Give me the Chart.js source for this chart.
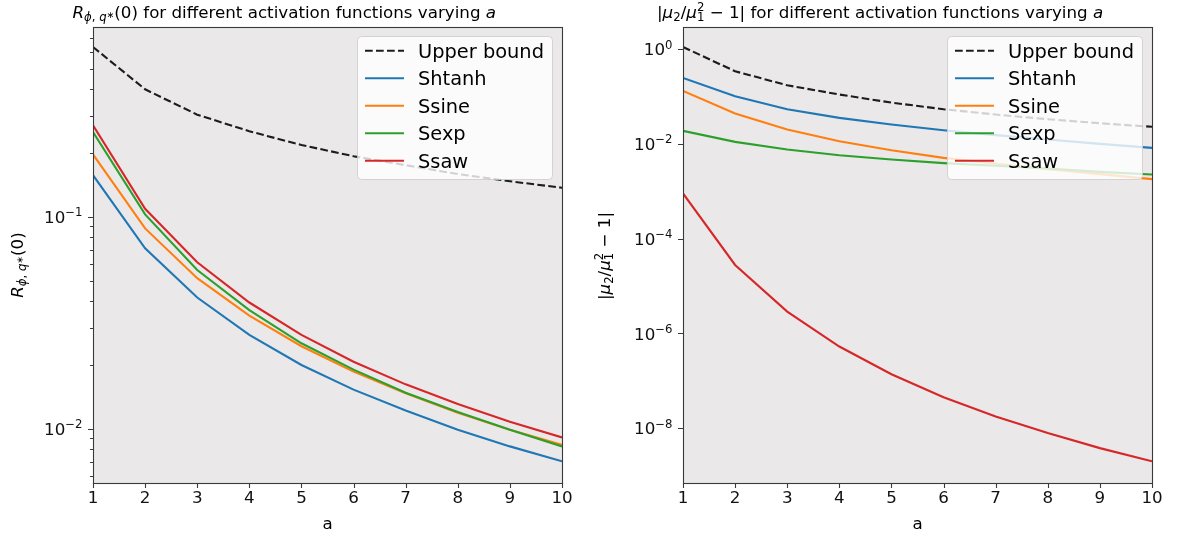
<!DOCTYPE html>
<html>
<head>
<meta charset="utf-8">
<script src="https://cdn.jsdelivr.net/npm/chart.js@4.4.1/dist/chart.umd.min.js"></script>
<style>
  html, body { margin: 0; padding: 0; background: #ffffff; }
  #wrap { position: relative; width: 1188px; height: 538px; }
  canvas { position: absolute; top: 0; }
  #left { left: 0; }
  #right { left: 594px; }
</style>
</head>
<body>
<div id="wrap">
  <canvas id="left" width="594" height="538"></canvas>
  <canvas id="right" width="594" height="538"></canvas>
</div>
<script>
// ---- data ---------------------------------------------------------------
const aValues = [1, 2, 3, 4, 5, 6, 7, 8, 9, 10];
const seriesNames = ['Upper bound', 'Shtanh', 'Ssine', 'Sexp', 'Ssaw'];
const seriesColors = ['#1c1c1c', '#1f77b4', '#ff7f0e', '#2ca02c', '#d62728'];

// R_{phi,q*}(0)
const rUpperBound = [0.632, 0.399, 0.303, 0.253, 0.218, 0.193, 0.175, 0.159, 0.147, 0.137];
const rShtanh     = [0.157, 0.0710, 0.0416, 0.0277, 0.0200, 0.0153, 0.0122, 0.00989, 0.00826, 0.00702];
const rSsine      = [0.197, 0.0881, 0.0513, 0.0342, 0.0245, 0.0186, 0.0147, 0.0119, 0.00989, 0.0084];
const rSexp       = [0.251, 0.1026, 0.0561, 0.0363, 0.0253, 0.0190, 0.0148, 0.0120, 0.00989, 0.00826];
const rSsaw       = [0.270, 0.109, 0.0610, 0.0394, 0.0277, 0.0207, 0.0162, 0.0131, 0.0108, 0.0091];

// |mu2/mu1^2 - 1|
const mUpperBound = [1.12, 0.344, 0.174, 0.111, 0.075, 0.0543, 0.042, 0.0334, 0.0275, 0.0231];
const mShtanh     = [0.249, 0.102, 0.0543, 0.0357, 0.0258, 0.0196, 0.0154, 0.0125, 0.0101, 0.0083];
const mSsine      = [0.132, 0.044, 0.0202, 0.0115, 0.0074, 0.0051, 0.00383, 0.00295, 0.00232, 0.00182];
const mSexp       = [0.019, 0.0111, 0.0077, 0.0058, 0.00472, 0.00395, 0.00347, 0.00305, 0.00259, 0.00228];
const mSsaw       = [9.06e-4, 2.8e-5, 2.9e-6, 5.3e-7, 1.38e-7, 4.5e-8, 1.77e-8, 7.9e-9, 3.8e-9, 2.0e-9];

// y ticks: major positions with their power-of-ten exponents, minor positions
const rMajorTicks     = [0.01, 0.1];
const rMajorExponents = ['−2', '−1'];
const rMinorTicks     = [0.006, 0.007, 0.008, 0.009, 0.02, 0.03, 0.04, 0.05, 0.06, 0.07, 0.08, 0.09,
                         0.2, 0.3, 0.4, 0.5, 0.6, 0.7];
const mMajorTicks     = [1e-8, 1e-6, 1e-4, 1e-2, 1];
const mMajorExponents = ['−8', '−6', '−4', '−2', '0'];
const mMinorTicks     = [];

// titles / axis labels as rich-text runs (it = italic, k = size factor, dy = baseline shift in em)
const rTitle = [
  { t: 'R', it: 1 },
  { t: 'ϕ', it: 1, k: 0.7, dy: 0.22 },
  { t: ', ', k: 0.7, dy: 0.22 },
  { t: 'q', it: 1, k: 0.7, dy: 0.22 },
  { t: '∗', k: 0.55, dy: 0.02 },
  { t: '(0) for different activation functions varying ' },
  { t: 'a', it: 1 }
];
const rYLabel = [
  { t: 'R', it: 1 },
  { t: 'ϕ', it: 1, k: 0.7, dy: 0.22 },
  { t: ', ', k: 0.7, dy: 0.22 },
  { t: 'q', it: 1, k: 0.7, dy: 0.22 },
  { t: '∗', k: 0.55, dy: 0.02 },
  { t: '(0)' }
];
const mTitle = [
  { t: '|' },
  { t: 'μ', it: 1 },
  { t: '2', k: 0.7, dy: 0.2 },
  { t: '/' },
  { t: 'μ', it: 1 },
  { t: '2', k: 0.7, dy: -0.4, stack: 1 },
  { t: '1', k: 0.7, dy: 0.2 },
  { t: ' − 1| for different activation functions varying ' },
  { t: 'a', it: 1 }
];
const mYLabel = [
  { t: '|' },
  { t: 'μ', it: 1 },
  { t: '2', k: 0.7, dy: 0.2 },
  { t: '/' },
  { t: 'μ', it: 1 },
  { t: '2', k: 0.7, dy: -0.4, stack: 1 },
  { t: '1', k: 0.7, dy: 0.2 },
  { t: ' − 1|' }
];
const xLabel = 'a';

// ---- styling ------------------------------------------------------------
const FONT = '"DejaVu Sans", "Noto Sans", sans-serif';
const TEXT_SIZE = 16.7;
const LEGEND_SIZE = 19.4;
const PANEL_BG = '#ebe8ea';
const SPINE = '#3a3a3a';
const INK = '#111111';

function runFont(r, base) {
  return (r.it ? 'italic ' : '') + (base * (r.k || 1)).toFixed(2) + 'px ' + FONT;
}
function richWidth(ctx, runs, base) {
  let w = 0, pending = null;
  for (const r of runs) {
    ctx.font = runFont(r, base);
    const rw = ctx.measureText(r.t).width;
    if (r.stack) { pending = rw; continue; }
    w += pending !== null ? Math.max(pending, rw) : rw;
    pending = null;
  }
  return w;
}
function drawRich(ctx, runs, x, y, base, align) {
  const w = richWidth(ctx, runs, base);
  let cx = align === 'center' ? x - w / 2 : align === 'right' ? x - w : x;
  let pending = null;
  ctx.textAlign = 'left';
  ctx.textBaseline = 'alphabetic';
  for (const r of runs) {
    ctx.font = runFont(r, base);
    const rw = ctx.measureText(r.t).width;
    ctx.fillText(r.t, cx, y + (r.dy || 0) * base);
    if (r.stack) { pending = rw; continue; }
    cx += pending !== null ? Math.max(pending, rw) : rw;
    pending = null;
  }
}

// panel background behind the lines
const panelBackground = {
  id: 'panelBackground',
  beforeDatasetsDraw(chart) {
    const { ctx, chartArea: a } = chart;
    ctx.save();
    ctx.fillStyle = PANEL_BG;
    ctx.fillRect(a.left, a.top, a.right - a.left, a.bottom - a.top);
    ctx.restore();
  }
};

// legend box in the upper right corner of the panel
const boxLegend = {
  id: 'boxLegend',
  afterDatasetsDraw(chart) {
    const { ctx, chartArea: a } = chart;
    const boxW = 195, boxH = 143, rowH = 27.5;
    const x0 = a.right - 10 - boxW, y0 = a.top + 9;
    ctx.save();
    ctx.beginPath();
    ctx.roundRect(x0 + 0.5, y0 + 0.5, boxW, boxH, 4);
    ctx.fillStyle = 'rgba(255,255,255,0.8)';
    ctx.fill();
    ctx.strokeStyle = 'rgba(204,204,204,0.8)';
    ctx.lineWidth = 1;
    ctx.stroke();
    chart.data.datasets.forEach((ds, i) => {
      const cy = y0 + 14.7 + i * rowH;
      ctx.beginPath();
      ctx.setLineDash(ds.borderDash || []);
      ctx.strokeStyle = ds.borderColor;
      ctx.lineWidth = ds.borderWidth;
      ctx.moveTo(x0 + 8, cy);
      ctx.lineTo(x0 + 47, cy);
      ctx.stroke();
      ctx.setLineDash([]);
      ctx.fillStyle = '#000000';
      ctx.font = LEGEND_SIZE + 'px ' + FONT;
      ctx.textAlign = 'left';
      ctx.textBaseline = 'alphabetic';
      ctx.fillText(ds.label, x0 + 61, cy + 7.2);
    });
    ctx.restore();
  }
};

// frame, tick marks, y tick labels, title and axis titles
const panelFrame = {
  id: 'panelFrame',
  afterDraw(chart) {
    const { ctx, chartArea: a } = chart;
    const o = chart.options.plugins.panelFrame;
    const xs = chart.scales.x, ys = chart.scales.y;
    ctx.save();
    ctx.strokeStyle = SPINE;
    ctx.lineWidth = 1.1;
    ctx.strokeRect(Math.round(a.left) + 0.5, Math.round(a.top) + 0.5,
                   Math.round(a.right - a.left), Math.round(a.bottom - a.top));
    ctx.beginPath();
    xs.ticks.forEach(t => {
      const px = Math.round(xs.getPixelForValue(t.value)) + 0.5;
      ctx.moveTo(px, a.bottom);
      ctx.lineTo(px, a.bottom + 5);
    });
    ys.ticks.forEach(t => {
      const py = Math.round(ys.getPixelForValue(t.value)) + 0.5;
      ctx.moveTo(a.left, py);
      ctx.lineTo(a.left - (t.major ? 5 : 3), py);
    });
    ctx.stroke();

    // power-of-ten labels on the log axis
    ctx.fillStyle = INK;
    o.majors.forEach((v, j) => {
      const py = ys.getPixelForValue(v);
      drawRich(ctx, [{ t: '10' }, { t: o.exponents[j], k: 0.7, dy: -0.4 }],
               a.left - 10.5, py + 0.365 * TEXT_SIZE, TEXT_SIZE, 'right');
    });

    ctx.fillStyle = '#000000';
    drawRich(ctx, o.title, o.titleX, 17.5, TEXT_SIZE, 'left');
    ctx.font = TEXT_SIZE + 'px ' + FONT;
    ctx.textAlign = 'center';
    ctx.textBaseline = 'alphabetic';
    ctx.fillText(xLabel, (a.left + a.right) / 2, 529);
    ctx.translate(o.yLabelX, o.yLabelY);
    ctx.rotate(-Math.PI / 2);
    drawRich(ctx, o.yLabel, 0, 0, TEXT_SIZE, 'center');
    ctx.restore();
  }
};

function makePanel(canvasId, cfg) {
  const series = cfg.series;
  return new Chart(document.getElementById(canvasId), {
    type: 'line',
    data: {
      datasets: seriesNames.map((name, i) => ({
        label: name,
        data: aValues.map((a, k) => ({ x: a, y: series[i][k] })),
        borderColor: seriesColors[i],
        borderWidth: 2.1,
        borderDash: i === 0 ? [7.7, 3.3] : [],
        pointRadius: 0,
        tension: 0,
        fill: false,
        order: seriesNames.length - i
      }))
    },
    options: {
      responsive: false,
      animation: false,
      devicePixelRatio: 1,
      layout: { padding: { left: 0, top: 27, right: cfg.padRight, bottom: 0 } },
      plugins: {
        legend: { display: false },
        title: { display: false },
        tooltip: { enabled: false },
        panelFrame: { title: cfg.title, titleX: cfg.titleX, yLabel: cfg.yLabel,
                      yLabelX: cfg.yLabelX, yLabelY: cfg.yLabelY,
                      majors: cfg.majors, exponents: cfg.exponents }
      },
      scales: {
        x: {
          type: 'linear', min: 1, max: 10,
          grid: { display: false, drawTicks: false },
          border: { display: false },
          ticks: { stepSize: 1, autoSkip: false, maxRotation: 0, padding: 6,
                   color: INK, font: { family: FONT, size: TEXT_SIZE } },
          afterFit(s) { s.height = 55; }
        },
        y: {
          type: 'logarithmic', min: cfg.ymin, max: cfg.ymax,
          grid: { display: false, drawTicks: false },
          border: { display: false },
          afterBuildTicks(s) {
            s.ticks = cfg.majors.map(v => ({ value: v, major: true }))
              .concat(cfg.minors.map(v => ({ value: v, major: false })))
              .sort((p, q) => p.value - q.value);
          },
          ticks: { display: false },
          afterFit(s) { s.width = cfg.axisLeft; }
        }
      }
    },
    plugins: [panelBackground, boxLegend, panelFrame]
  });
}

makePanel('left', {
  series: [rUpperBound, rShtanh, rSsine, rSexp, rSsaw],
  ymin: 0.00555, ymax: 0.785,
  majors: rMajorTicks, exponents: rMajorExponents, minors: rMinorTicks,
  axisLeft: 93, padRight: 32,
  title: rTitle, titleX: 72.5,
  yLabel: rYLabel, yLabelX: 22.5, yLabelY: 265
});

makePanel('right', {
  series: [mUpperBound, mShtanh, mSsine, mSexp, mSsaw],
  ymin: 6.97e-10, ymax: 2.96,
  majors: mMajorTicks, exponents: mMajorExponents, minors: mMinorTicks,
  axisLeft: 89, padRight: 36,
  title: mTitle, titleX: 63,
  yLabel: mYLabel, yLabelX: 16, yLabelY: 256
});
</script>
</body>
</html>
